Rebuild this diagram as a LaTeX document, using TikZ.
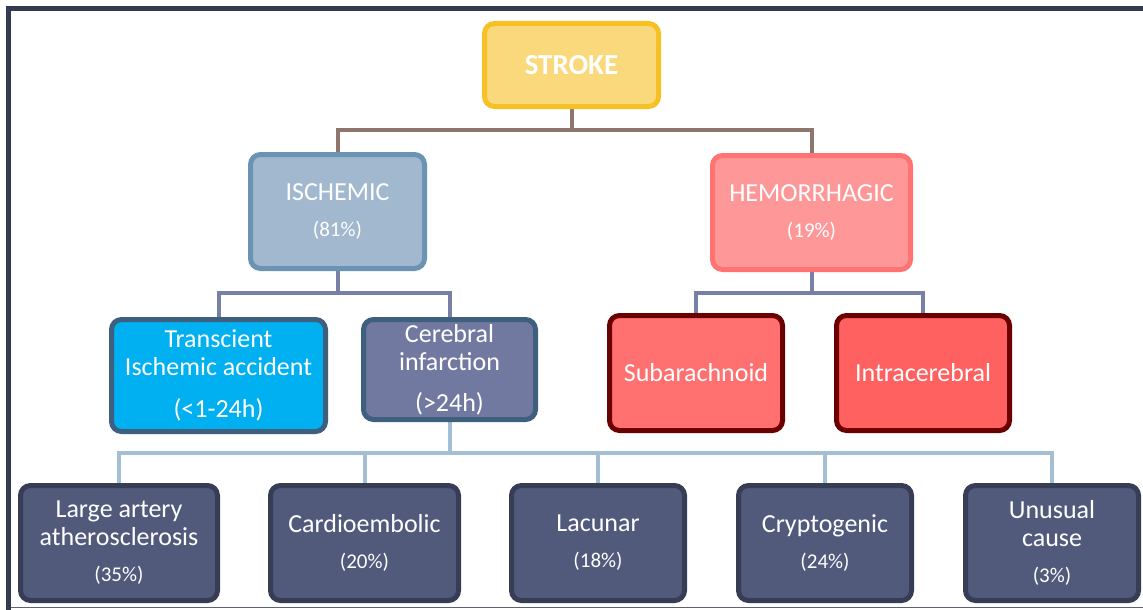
\documentclass[tikz,border=0pt]{standalone}
\usepackage{fontspec}
\setmainfont{Carlito}
\usetikzlibrary{backgrounds}
\definecolor{frame}{HTML}{343A52}
\definecolor{strokefill}{HTML}{F9D97B}
\definecolor{strokedraw}{HTML}{F5C125}
\definecolor{ischfill}{HTML}{A2B8CF}
\definecolor{ischdraw}{HTML}{6A93B4}
\definecolor{hemfill}{HTML}{FE9898}
\definecolor{hemdraw}{HTML}{FF7373}
\definecolor{tiafill}{HTML}{00B0F0}
\definecolor{slatedraw}{HTML}{3E5F7E}
\definecolor{cerfill}{HTML}{7179A1}
\definecolor{subfill}{HTML}{FF7171}
\definecolor{intrafill}{HTML}{FF6161}
\definecolor{reddraw}{HTML}{6B0000}
\definecolor{botfill}{HTML}{525A7C}
\definecolor{botdraw}{HTML}{373D55}
\definecolor{connA}{HTML}{8E756D}
\definecolor{connB}{HTML}{7880A8}
\definecolor{connC}{HTML}{A4BED4}
\newcommand{\mainsz}{\fontsize{26}{28}\selectfont}
\newcommand{\pctsz}{\fontsize{21}{22}\selectfont}
\tikzset{
  box/.style={rectangle, rounded corners=10pt, line width=5pt, inner sep=0pt,
    align=center, text=white, font=\mainsz},
  conn/.style={line width=4pt, line join=miter},
}
\begin{document}
\begin{tikzpicture}[x=1pt,y=-1pt]
\useasboundingbox (0,0) rectangle (1143,610);
% frame
\fill[frame] (6,6) rectangle (1143,11);
\fill[frame] (6,6) rectangle (11,610);
\fill[frame!80] (11,606.5) rectangle (1143,608);

% top level
\node[box, fill=strokefill, draw=strokedraw, minimum width=174pt, minimum height=83pt,
  font=\fontsize{29}{30}\selectfont\bfseries] (stroke) at (571.5,65) {STROKE};
\node[box, fill=ischfill, draw=ischdraw, minimum width=174pt, minimum height=114pt]
  (isch) at (337.5,211.5) {ISCHEMIC\\[8pt]{\pctsz (81\%)}};
\node[box, fill=hemfill, draw=hemdraw, minimum width=198pt, minimum height=114pt]
  (hem) at (811.5,212.5) {HEMORRHAGIC\\[8pt]{\pctsz (19\%)}};

% second level
\node[box, fill=tiafill, draw=slatedraw, minimum width=214pt, minimum height=112pt]
  (tia) at (218.5,375.5) {Transcient\\Ischemic accident\\[14pt](<1-24h)};
\node[box, fill=cerfill, draw=slatedraw, minimum width=172pt, minimum height=100pt]
  (cer) at (449.5,369.5) {Cerebral\\infarction\\[13pt](>24h)};
\node[box, fill=subfill, draw=reddraw, minimum width=173pt, minimum height=115pt]
  (sub) at (696,373) {Subarachnoid};
\node[box, fill=intrafill, draw=reddraw, minimum width=173pt, minimum height=115pt]
  (intra) at (923,373) {Intracerebral};

% bottom level
\tikzset{bot/.style={box, fill=botfill, draw=botdraw, minimum height=115pt}}
\node[bot, minimum width=197pt] (large) at (119,543)
  {Large artery\\atherosclerosis\\[8pt]{\pctsz (35\%)}};
\node[bot, minimum width=188pt] (cardio) at (364.5,543)
  {Cardioembolic\\[8pt]{\pctsz (20\%)}};
\node[bot, minimum width=173pt] (lac) at (598,543)
  {Lacunar\\[8pt]{\pctsz (18\%)}};
\node[bot, minimum width=173pt] (crypt) at (825,543)
  {Cryptogenic\\[8pt]{\pctsz (24\%)}};
\node[bot, minimum width=173pt] (unus) at (1052,543)
  {Unusual\\cause\\[8pt]{\pctsz (3\%)}};

% connectors
\begin{scope}[on background layer]
\fill[white] (0,0) rectangle (1143,610);
\draw[conn, connA] (stroke.south) -- (stroke.south |- 0,130) -| (isch.north);
\draw[conn, connA] (stroke.south |- 0,130) -| (hem.north);
\draw[conn, connB] (isch.south) -- (isch.south |- 0,293) -| (tia.north);
\draw[conn, connB] (isch.south |- 0,293) -| (cer.north);
\draw[conn, connB] (hem.south) -- (hem.south |- 0,293) -| (sub.north);
\draw[conn, connB] (hem.south |- 0,293) -| (intra.north);
\draw[conn, connC] (cer.south) -- (cer.south |- 0,453) -| (large.north);
\draw[conn, connC] (cer.south |- 0,453) -| (unus.north);
\draw[conn, connC] (cardio.north) -- (cardio.north |- 0,453);
\draw[conn, connC] (lac.north) -- (lac.north |- 0,453);
\draw[conn, connC] (crypt.north) -- (crypt.north |- 0,453);
\end{scope}
\end{tikzpicture}
\end{document}
